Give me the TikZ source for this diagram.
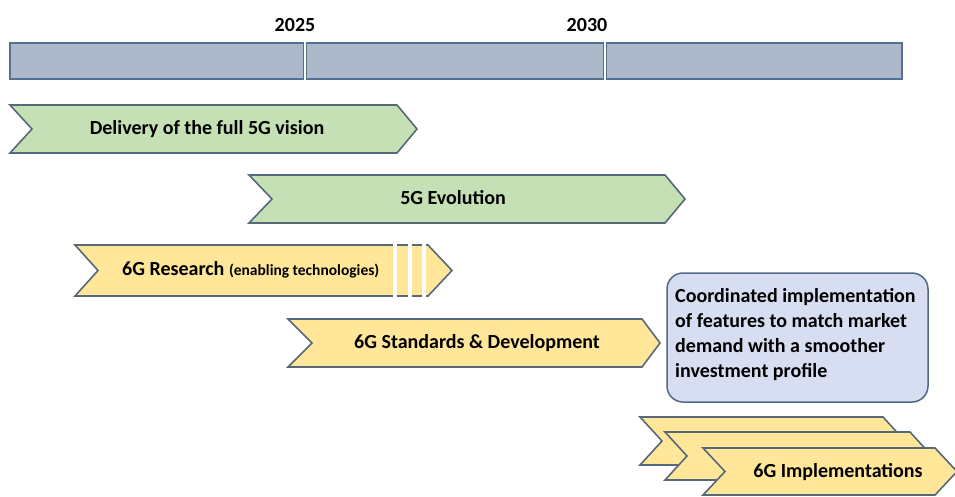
\documentclass[tikz,border=0pt]{standalone}
\usepackage{fontspec}
\setmainfont{Carlito}
\definecolor{barfill}{HTML}{ADB9CA}
\definecolor{barline}{HTML}{52708F}
\definecolor{greenfill}{HTML}{C5E0B4}
\definecolor{yellowfill}{HTML}{FFE699}
\definecolor{edge}{HTML}{56687A}
\definecolor{boxfill}{HTML}{D8DEF1}
\definecolor{boxline}{HTML}{50698A}
\newcommand{\chevshape}[7]{% left, bodyend, tip, notch, top, bottom, style
  \draw[#7] (#1,#5) -- (#2,#5) -- (#3,{(#5+#6)/2}) -- (#2,#6) -- (#1,#6) -- (#4,{(#5+#6)/2}) -- cycle;}
\begin{document}
\begin{tikzpicture}[x=1pt,y=-1pt,
  barseg/.style={fill=barfill,draw=barline,line width=1.2pt},
  greenarrow/.style={fill=greenfill,draw=edge,line width=1.6pt,line join=miter},
  yellowarrow/.style={fill=yellowfill,draw=edge,line width=1.6pt,line join=miter},
  label/.style={font=\fontsize{20}{24}\selectfont\bfseries,text=black,inner sep=0pt},
  year/.style={font=\fontsize{20}{24}\selectfont\bfseries,text=black,inner sep=0pt},
  notebox/.style={fill=boxfill,draw=boxline,line width=1.5pt,rounded corners=16pt,
    minimum width=261pt,minimum height=129pt,inner sep=0pt,align=left,
    font=\fontsize{20}{25}\selectfont\bfseries}]
\useasboundingbox (0,0) rectangle (955,496);
% timeline bar
\draw[barseg] (10,43) rectangle (303.5,79);
\draw[barseg] (306.5,43) rectangle (603.5,79);
\draw[barseg] (606.5,43) rectangle (902,79);
\node[year] (y2025) at (295,25) {2025};
\node[year] (y2030) at (587,25) {2030};
% delivery of full 5G vision
\chevshape{10}{397}{417}{32}{105}{153}{greenarrow}
\node[label] (deliv) at (207,129) {Delivery of the full 5G vision};
% 5G evolution
\chevshape{249}{665}{685}{272}{175}{223}{greenarrow}
\node[label] (evol) at (453,198) {5G Evolution};
% 6G research
\chevshape{75}{428}{452}{98}{245}{296}{yellowarrow}
\fill[white] (393,242) rectangle (397,299);
\fill[white] (408,242) rectangle (412,299);
\fill[white] (422,242) rectangle (426,299);
\node[label,anchor=west] (res) at (122,270) {6G Research {\fontsize{15.5}{18}\selectfont(enabling technologies)}};
% 6G standards
\chevshape{288}{642}{660}{312}{319}{367}{yellowarrow}
\node[label] (std) at (477,343) {6G Standards \& Development};
% note box
\node[notebox] (note) at (797.5,337.5) {};
\node[label,anchor=west,align=left,font=\fontsize{20}{25}\selectfont\bfseries] (notetext) at (675,335)
  {Coordinated implementation\\of features to match market\\demand with a smoother\\investment profile};
% implementations
\chevshape{640}{883}{905}{662}{417}{465}{yellowarrow}
\chevshape{665}{910}{932}{687}{432}{480}{yellowarrow}
\chevshape{703}{935}{957}{725}{448}{495}{yellowarrow}
\node[label] (impl) at (838,472) {6G Implementations};
\end{tikzpicture}
\end{document}
